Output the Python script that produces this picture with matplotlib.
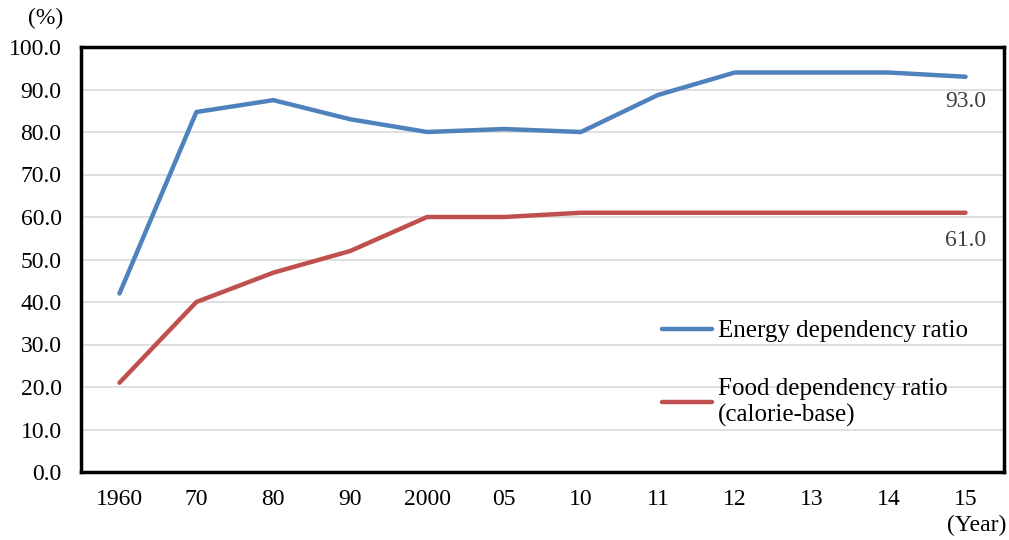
import matplotlib
matplotlib.use("Agg")
import matplotlib.pyplot as plt

categories = ["1960", "70", "80", "90", "2000", "05", "10", "11", "12", "13", "14", "15"]
energy = [42.0, 84.7, 87.5, 83.0, 80.0, 80.7, 80.0, 88.7, 94.0, 94.0, 94.0, 93.0]
food = [21.0, 40.0, 46.9, 52.0, 60.0, 60.0, 61.0, 61.0, 61.0, 61.0, 61.0, 61.0]
yticks = [0, 10, 20, 30, 40, 50, 60, 70, 80, 90, 100]

plt.rcParams['font.family'] = ['Liberation Serif', 'DejaVu Serif']
FS = 17
fig = plt.figure(figsize=(10.09, 5.40), dpi=100)
ax = fig.add_axes([81/1009, 1-472/540, 923/1009, 425/540])

x = list(range(len(categories)))
blue = "#4f81bd"
red = "#c0504d"
ax.plot(x, energy, color=blue, lw=3.2, solid_capstyle='round', solid_joinstyle='round', label="Energy dependency ratio")
ax.plot(x, food, color=red, lw=3.2, solid_capstyle='round', solid_joinstyle='round', label="Food dependency ratio\n(calorie-base)")

ax.set_xlim(-0.5, len(categories) - 0.5)
ax.set_ylim(0, 100)
ax.set_yticks(yticks)
ax.set_yticklabels([f"{v:.1f}" for v in yticks], fontsize=FS)
ax.set_xticks(x)
ax.set_xticklabels(categories, fontsize=FS)
ax.tick_params(axis='y', length=0, pad=14)
ax.tick_params(axis='x', length=0, pad=12)
ax.grid(axis='y', color='#d9d9d9', lw=1.2)
ax.set_axisbelow(True)
for s in ax.spines.values():
    s.set_linewidth(2.5)
    s.set_color('black')

ax.annotate(f"{energy[-1]:.1f}", (x[-1], energy[-1]), xytext=(0, -18), textcoords='offset points',
            ha='center', va='center', fontsize=FS, color='#404040')
ax.annotate(f"{food[-1]:.1f}", (x[-1], food[-1]), xytext=(0, -20), textcoords='offset points',
            ha='center', va='center', fontsize=FS, color='#404040')

leg = ax.legend(loc='upper left', bbox_to_anchor=((662-81)/923, (472-320)/425), frameon=False, fontsize=18,
                handlelength=2.0, handletextpad=0.25, labelspacing=1.4, borderpad=0, borderaxespad=0)
for line in leg.get_lines():
    line.set_linewidth(3.2)
for t in leg.get_texts():
    t.set_linespacing(1.25)

fig.text(46/1009, 1-18/540, "(%)", fontsize=FS, ha='center', va='center')
fig.text(1006/1009, 1-525/540, "(Year)", fontsize=FS, ha='right', va='center')

fig.savefig("out.png", dpi=100)
